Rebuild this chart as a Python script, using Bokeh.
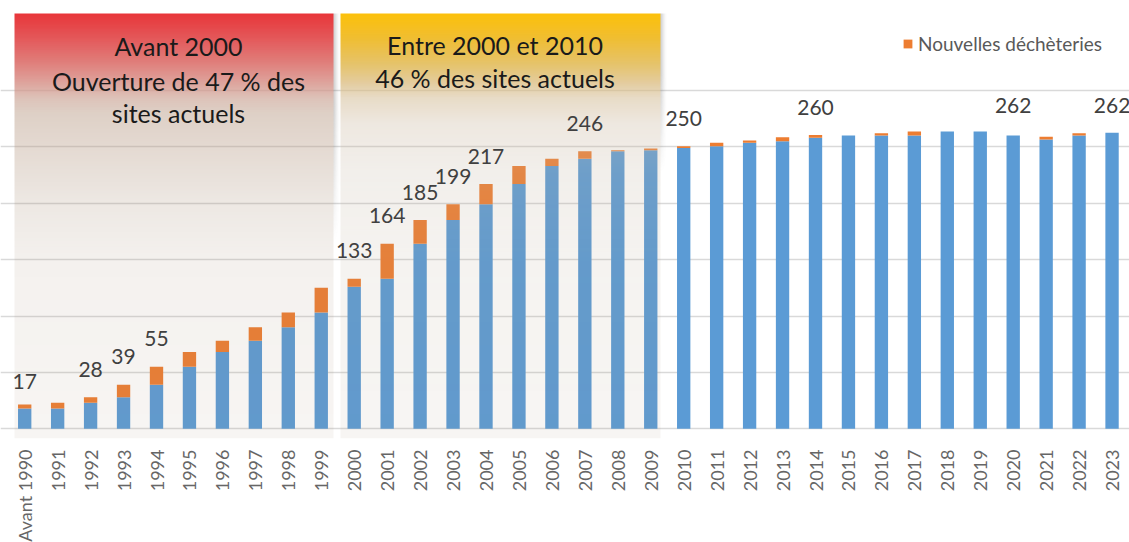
import numpy as np
from bokeh.plotting import figure
from bokeh.models import ColumnDataSource, FixedTicker, Legend, LegendItem
from bokeh.core.properties import value
from bokeh.embed import file_html
from bokeh.resources import INLINE

# ---------------- data ----------------
years = ["Avant 1990", "1991", "1992", "1993", "1994", "1995", "1996", "1997",
         "1998", "1999", "2000", "2001", "2002", "2003", "2004", "2005", "2006",
         "2007", "2008", "2009", "2010", "2011", "2012", "2013", "2014", "2015",
         "2016", "2017", "2018", "2019", "2020", "2021", "2022", "2023"]
existing = [18, 18, 23, 28, 39, 55, 68, 78, 90, 103, 126, 133, 164, 185, 199,
            217, 233, 239.5, 246, 247, 249, 250.5, 253.5, 255, 258, 260, 260,
            260, 263.5, 263.5, 260, 256.5, 260, 262.5]
new_sites = [3.5, 5, 5, 11, 16, 13, 10, 12, 13, 22, 7, 31, 21, 14, 18, 16, 6.5,
             6.5, 1, 1.5, 1.5, 3, 2, 3.5, 2.5, 0, 2, 3.5, 0, 0, 0, 2.5, 2, 0]
label_years = ["Avant 1990", "1992", "1993", "1994", "2000", "2001", "2002",
               "2003", "2004", "2007", "2010", "2014", "2020", "2023"]
label_values = [17, 28, 39, 55, 133, 164, 185, 199, 217, 246, 250, 260, 262, 262]
legend_label = "Nouvelles déchèteries"
box_texts_1 = ["Avant 2000", "Ouverture de 47 % des", "sites actuels"]
box_texts_2 = ["Entre 2000 et 2010", "46 % des sites actuels"]

# ---------------- style ----------------
BLUE = "#5B9BD5"
ORANGE = "#ED7D31"
FONT = "Lato"
XPX = 32.95   # pixels per category
YPX = 1.128   # pixels per unit
X0_PX = 24.2  # page x of first category
Y0_PX = 428.3 # page y of value 0


def px_x(px):
    return (px - X0_PX) / XPX


def px_y(py):
    return (Y0_PX - py) / YPX


xs = list(range(len(years)))
src = ColumnDataSource(dict(x=xs, existing=existing, new=new_sites))

p = figure(frame_width=1129, frame_height=438,
           x_range=(px_x(0), px_x(1129)), y_range=(px_y(438), px_y(0)),
           output_backend="svg", toolbar_location=None,
           min_border_left=0, min_border_right=0, min_border_top=0,
           min_border_bottom=0, outline_line_color=None,
           background_fill_color="white", border_fill_color="white")

p.yaxis.visible = False
p.xgrid.visible = False
p.ygrid.ticker = FixedTicker(ticks=[0, 50, 100, 150, 200, 250, 300])
p.ygrid.grid_line_color = "#D9D9D9"
p.ygrid.grid_line_width = 1.6

ax = p.xaxis[0]
ax.ticker = FixedTicker(ticks=xs)
ax.major_label_overrides = {i: y for i, y in zip(xs, years)}
ax.major_label_orientation = np.pi / 2
ax.axis_line_color = None
ax.major_tick_line_color = None
ax.minor_tick_line_color = None
ax.major_label_standoff = 5
ax.major_label_text_font = FONT
ax.major_label_text_font_size = "18px"
ax.major_label_text_color = "#666666"

rs = p.vbar_stack(["existing", "new"], x="x", width=0.405, color=[BLUE, ORANGE],
                  line_color=None, source=src)


# ---------------- gradient boxes ----------------
def box_image(stops, w_px, h_px, shadow_px, shadow_fade):
    t = np.arange(h_px) + 0.5
    sp = np.array([s[0] for s in stops], dtype=float)
    cols = np.array([s[1] for s in stops], dtype=float)
    al = np.interp(t, sp, [s[2] for s in stops])
    out = np.zeros((h_px, w_px + shadow_px, 4), dtype=np.uint8)
    for k in range(3):
        target = np.interp(t, sp, cols[:, k])
        c = 255 - (255 - target) / al
        out[:, :w_px, k] = np.clip(c, 0, 255)[:, None]
    out[:, :w_px, 3] = (al * 255)[:, None]
    vf = np.clip(1 - (t - shadow_fade[0]) / (shadow_fade[1] - shadow_fade[0]), 0, 1)
    for j in range(shadow_px):
        a = 0.28 * (1 - j / shadow_px) ** 1.5
        out[:, w_px + j, 0:3] = 90
        out[:, w_px + j, 3] = (a * vf * 255).astype(np.uint8)
    img = out[::-1].copy().view(dtype=np.uint32).reshape((h_px, w_px + shadow_px))
    return img


red_stops = [
    (0, (232, 54, 58), 0.97), (25, (228, 88, 90), 0.95),
    (50, (224, 128, 124), 0.9), (70, (222, 165, 158), 0.8),
    (85, (221, 195, 185), 0.65), (100, (222, 208, 198), 0.5),
    (140, (229, 219, 211), 0.35), (190, (237, 232, 227), 0.2),
    (250, (244, 241, 238), 0.12), (425, (247, 245, 243), 0.09)]
yellow_stops = [
    (0, (253, 193, 10), 0.97), (25, (240, 190, 50), 0.93),
    (50, (230, 195, 105), 0.85), (70, (228, 205, 160), 0.7),
    (85, (232, 220, 200), 0.55), (110, (238, 232, 224), 0.35),
    (160, (242, 239, 235), 0.2), (250, (245, 243, 240), 0.12),
    (425, (247, 245, 243), 0.09)]

for (left, right), stops, fade in [((14, 333), red_stops, (90, 230)),
                                   ((340, 660), yellow_stops, (60, 160))]:
    w = right - left
    img = box_image(stops, w, 425, 6, fade)
    p.image_rgba(image=[img], x=px_x(left), y=px_y(438),
                 dw=(w + 6) / XPX, dh=425 / YPX)

# ---------------- labels ----------------
lab_src = ColumnDataSource(dict(
    x=[years.index(y) for y in label_years], y=label_values,
    t=[str(v) for v in label_values]))
p.text(x="x", y="y", text="t", source=lab_src, text_align="center",
       text_baseline="middle", y_offset=-28, text_font=value(FONT),
       text_font_size="21px", text_color="#404040")

p.text(x=[px_x(178)] * 3, y=[px_y(45), px_y(80), px_y(112)], text=box_texts_1,
       text_align="center", text_baseline="alphabetic", text_font=value(FONT),
       text_font_size="25px", text_color="#1A1A1A")
p.text(x=[px_x(494.5)] * 2, y=[px_y(44), px_y(77)], text=box_texts_2,
       text_align="center", text_baseline="alphabetic", text_font=value(FONT),
       text_font_size="25px", text_color="#1A1A1A")

legend = Legend(items=[LegendItem(label=legend_label, renderers=[rs[1]])],
                location=(902, 383), padding=0, margin=0, spacing=0,
                glyph_width=11, glyph_height=11, label_height=11,
                label_standoff=5, border_line_alpha=0, background_fill_alpha=0,
                label_text_font=FONT, label_text_font_size="19px",
                label_text_color="#595959")
p.add_layout(legend)

open("out.html", "w").write(file_html(p, INLINE))
